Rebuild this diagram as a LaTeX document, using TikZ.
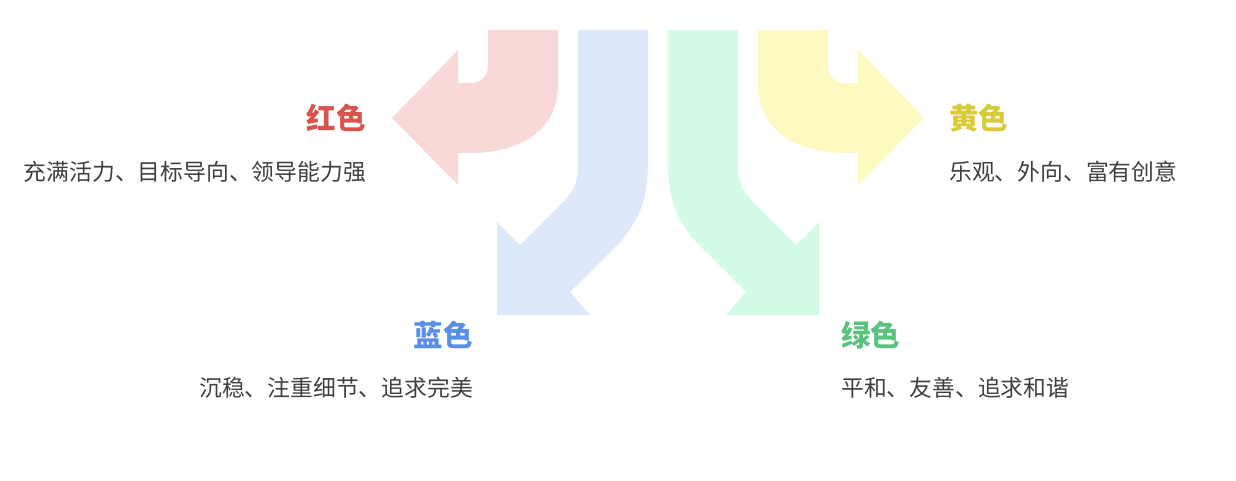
\documentclass[tikz,border=0pt]{standalone}
\usepackage{fontspec}
\setmainfont{Noto Sans CJK SC}
\begin{document}
\begin{tikzpicture}[x=1pt,y=-1pt,
 ttl/.style={font=\fontsize{29.5}{32}\selectfont\bfseries},
 dsc/.style={font=\fontsize{22.8}{26}\selectfont, text=black!75}]
\definecolor{rf}{HTML}{F9D9D7}\definecolor{bf}{HTML}{DEE8FB}
\definecolor{gf}{HTML}{D3FBE6}\definecolor{yf}{HTML}{FEF9C0}
\definecolor{rt}{HTML}{D9534F}\definecolor{bt}{HTML}{5B8EE6}
\definecolor{gt}{HTML}{5CC27F}\definecolor{yt}{HTML}{D8CB3A}
\useasboundingbox (0,0) rectangle (1236,480);
\def\redpath{(488,30) -- (558,30) -- (558,85) .. controls (558,130) and (520,153) .. (470,153) -- (458,153) -- (458,185) -- (392,118) -- (458,50) -- (458,83) -- (470,83) .. controls (482,83) and (488,76) .. (488,64) -- cycle}
\def\bluepath{(578,30) -- (648,30) -- (648,160) .. controls (648,200) and (640,218) .. (620,242) -- (570,292) -- (590,315) -- (497,315) -- (497,222) -- (520,245) -- (565,200) .. controls (575,190) and (578,180) .. (578,165) -- cycle}
\fill[rf] \redpath;
\fill[bf] \bluepath;
\begin{scope}[shift={(1316,0)},xscale=-1]
\fill[yf] \redpath;
\fill[gf] \bluepath;
\end{scope}
\node[ttl,text=rt,anchor=east,inner sep=0pt] (rt) at (366,118) {红色};
\node[dsc,anchor=east,inner sep=0pt] (rd) at (366,172) {充满活力、目标导向、领导能力强};
\node[ttl,text=bt,anchor=east,inner sep=0pt] (bt) at (473,335) {蓝色};
\node[dsc,anchor=east,inner sep=0pt] (bd) at (473,388) {沉稳、注重细节、追求完美};
\node[ttl,text=yt,anchor=west,inner sep=0pt] (yt) at (949,118) {黄色};
\node[dsc,anchor=west,inner sep=0pt] (yd) at (949,172) {乐观、外向、富有创意};
\node[ttl,text=gt,anchor=west,inner sep=0pt] (gt) at (841,335) {绿色};
\node[dsc,anchor=west,inner sep=0pt] (gd) at (841,388) {平和、友善、追求和谐};
\end{tikzpicture}
\end{document}
